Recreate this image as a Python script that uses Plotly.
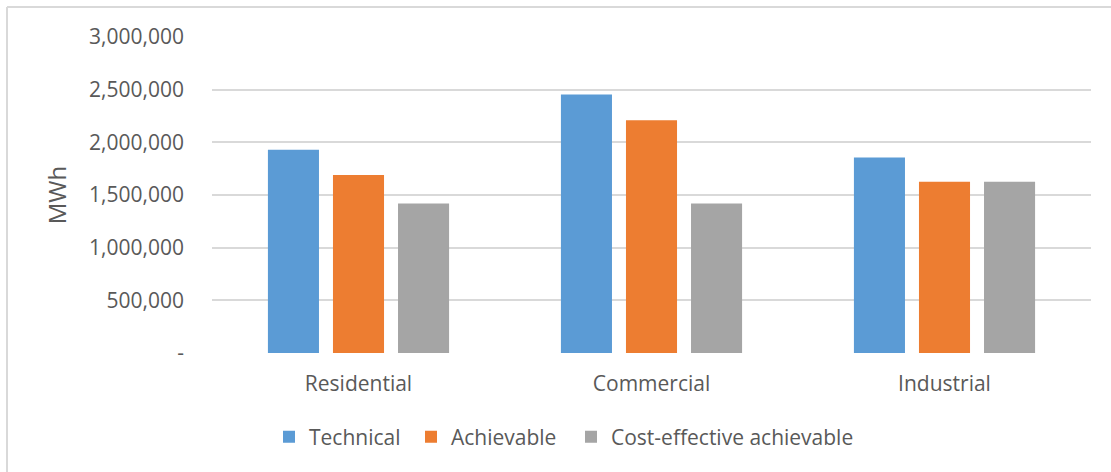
import plotly.graph_objects as go

categories = ["Residential", "Commercial", "Industrial"]
series_names = ["Technical", "Achievable", "Cost-effective achievable"]
technical = [1930000, 2455000, 1855000]
achievable = [1690000, 2210000, 1625000]
cost_effective = [1420000, 1420000, 1625000]
colors = ["#5B9BD5", "#ED7D31", "#A5A5A5"]
y_tickvals = [0, 500000, 1000000, 1500000, 2000000, 2500000, 3000000]
y_ticktext = ["-", "500,000", "1,000,000", "1,500,000", "2,000,000", "2,500,000", "3,000,000"]

FONT = "Open Sans"
TXT = "#595959"

W, H = 1111, 472
L, R, T, B = 212, 20, 37, 119
pw, ph = W - L - R, H - T - B

def px2x(px):
    return (px - L) / pw

def py2y(py):
    return (H - B - py) / ph

legend_ids = ["legend", "legend2", "legend3"]
legend_px = [269, 411, 571]

fig = go.Figure()
for name, vals, col, lid in zip(series_names, [technical, achievable, cost_effective], colors, legend_ids):
    fig.add_trace(go.Bar(x=categories, y=vals, name=name, legend=lid,
                         marker=dict(color=col, line=dict(width=0))))

legend_common = dict(orientation="h", xanchor="left", y=py2y(437), yanchor="middle",
                     font=dict(family=FONT, size=21, color=TXT), itemwidth=30,
                     bgcolor="rgba(0,0,0,0)", borderwidth=0)

fig.update_layout(
    width=W, height=H,
    margin=dict(l=L, r=R, t=T, b=B, autoexpand=False),
    paper_bgcolor="white", plot_bgcolor="white",
    font=dict(family=FONT, size=21, color=TXT),
    barmode="group", bargap=0.334, bargroupgap=0.215,
    showlegend=True,
    legend=dict(x=px2x(legend_px[0]), **legend_common),
    legend2=dict(x=px2x(legend_px[1]), **legend_common),
    legend3=dict(x=px2x(legend_px[2]), **legend_common),
    xaxis=dict(showgrid=False, showline=False, zeroline=False, ticks="",
               ticklabelstandoff=16, tickfont=dict(size=21, color=TXT)),
    yaxis=dict(range=[0, 3000000], tickvals=y_tickvals, ticktext=y_ticktext,
               showgrid=True, gridcolor="#D9D9D9", gridwidth=2, zeroline=False, showline=False,
               ticks="", ticklabelstandoff=27, tickfont=dict(size=21, color=TXT),
               title=dict(text="MWh", font=dict(size=24, color=TXT), standoff=15)),
    shapes=[
        dict(type="line", xref="paper", yref="paper", x0=px2x(7), x1=px2x(1200), y0=py2y(7), y1=py2y(7),
             line=dict(color="#D9D9D9", width=2)),
        dict(type="line", xref="paper", yref="paper", x0=px2x(7), x1=px2x(7), y0=py2y(7), y1=py2y(600),
             line=dict(color="#D9D9D9", width=2)),
    ],
)

fig.write_html("out.html")
